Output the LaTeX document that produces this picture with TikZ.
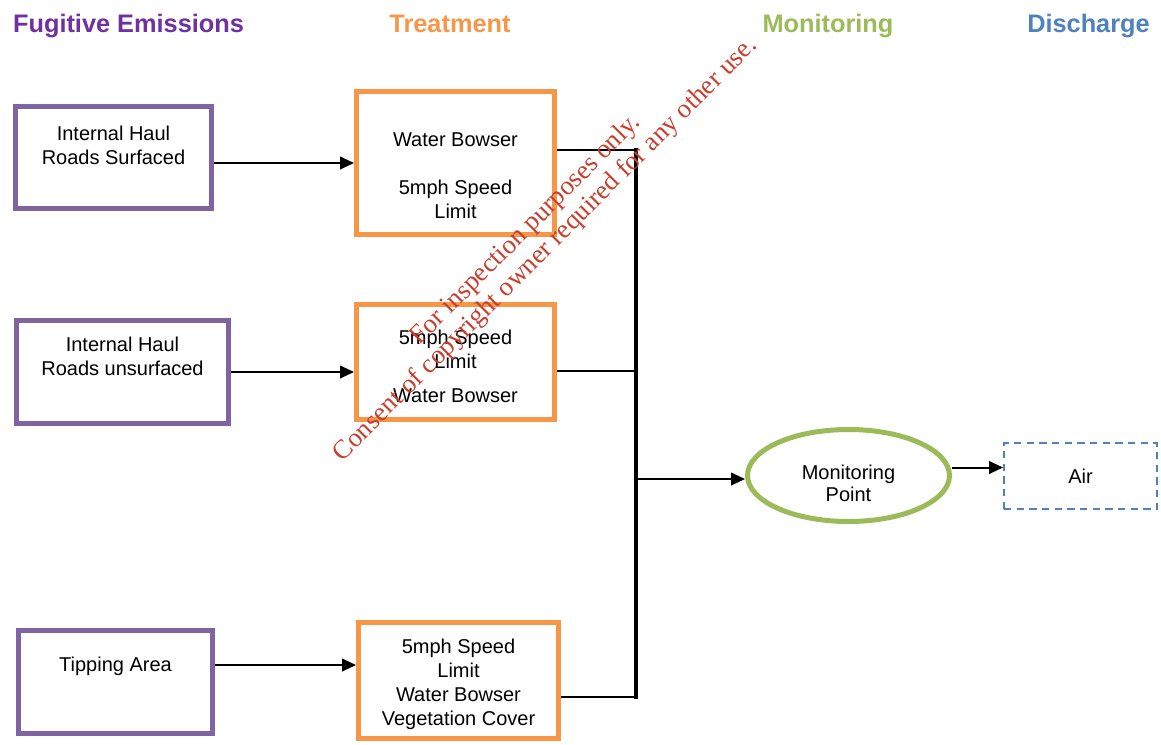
\documentclass[tikz,border=0pt]{standalone}
\usepackage{fontspec}
\setmainfont{Liberation Sans}
\newfontfamily\wmfont{Liberation Serif}
\usepackage{tikz}
\usetikzlibrary{shapes.geometric,arrows.meta,calc,positioning}
\definecolor{hdpurple}{RGB}{112,48,160}
\definecolor{fepurple}{RGB}{128,100,162}
\definecolor{trorange}{RGB}{247,150,70}
\definecolor{mongreen}{RGB}{155,187,89}
\definecolor{disblue}{RGB}{79,129,189}
\definecolor{wmred}{RGB}{200,62,45}

\begin{document}
\begin{tikzpicture}[x=0.75pt, y=-0.75pt, font=\fontsize{15}{18}\selectfont,
    >={Triangle[length=10.5pt,width=9.5pt]}]
   \useasboundingbox (0,0) rectangle (1161,744);
   % column headings
   \begin{scope}[every node/.style={anchor=base,font=\bfseries\fontsize{19}{22}\selectfont}]
    \node (h1) [text=hdpurple] at (128.5,32) {Fugitive Emissions};
    \node (h2) [text=trorange] at (450,32) {Treatment};
    \node (h3) [text=mongreen] at (828,32) {Monitoring};
    \node (h4) [text=disblue] at (1088.5,32) {Discharge};
   \end{scope}
   % sources
   \begin{scope}[every node/.style={draw=fepurple,line width=3.75pt,align=center,inner sep=0pt}]
    \node (e1) [minimum width=147pt,minimum height=76.5pt] at (113.5,157.5) {Internal Haul\\Roads Surfaced\\\mbox{}};
    \node (e2) [minimum width=159pt,minimum height=77.25pt] at (122.5,372) {Internal Haul\\Roads unsurfaced\\[6pt]\mbox{}};
    \node (e3) [minimum width=145.5pt,minimum height=77.25pt] at (115.5,682) {Tipping Area\\[9pt]\mbox{}};
   \end{scope}
   % treatment
   \begin{scope}[every node/.style={draw=trorange,line width=3.75pt,align=center,inner sep=0pt}]
    \node (t1) [minimum width=148.5pt,minimum height=107.25pt] at (455.5,163) {\strut\\[-0.5pt]Water Bowser\\\mbox{}\\5mph Speed\\Limit};
    \node (t2) [minimum width=148.5pt,minimum height=86.25pt] at (455.5,362) {\strut\\[-12.5pt]5mph Speed\\Limit\\[7.5pt]Water Bowser};
    \node (t3) [minimum width=150pt,minimum height=87pt] at (458.5,680.5) {\strut\\[-14pt]5mph Speed\\Limit\\Water Bowser\\Vegetation Cover};
   \end{scope}
   % monitoring and discharge
   \node (mp) [ellipse,draw=mongreen,line width=3.75pt,align=center,inner sep=0pt,
      minimum width=151.5pt,minimum height=69pt] at (848.5,475.5) {\strut\\[-8pt]Monitoring\\[-1.5pt]Point};
   \node (air) [draw=disblue,line width=1.5pt,dash pattern=on 5.5pt off 4pt,inner sep=0pt,
      minimum width=114.75pt,minimum height=49.5pt] at (1080.5,476) {Air};
   % connectors
   \coordinate (j1) at (636,150);
   \coordinate (j2) at (636,371);
   \coordinate (j3) at (636,697);
   \coordinate (j4) at (636,479);
   \begin{scope}[line width=1.5pt]
    \draw[->] (e1.east |- t1.west) -- (t1.west);
    \draw[->] (e2.east) -- (e2.east -| t2.west);
    \draw[->] ([yshift=12.75pt]e3.east) -- ([yshift=12.75pt]e3.east -| t3.west);
    \draw (j1 -| t1.east) -- (j1);
    \draw (j2 -| t2.east) -- (j2);
    \draw (j3 -| t3.east) -- (j3);
    \draw[line width=2.5pt,line cap=rect] (j1) -- (j3);
    \draw[->] (j4) -- (j4 -| mp.west);
    \draw[->] ([yshift=6pt]mp.east) -- ([yshift=6pt]mp.east -| air.west);
   \end{scope}
   % stamp across the page
   \node (wm) [rotate=45,text=wmred,align=center,font=\wmfont\fontsize{20}{21}\selectfont]
      at (536,240) {For inspection purposes only.\\Consent of copyright owner required for any other use.};
\end{tikzpicture}
\end{document}
